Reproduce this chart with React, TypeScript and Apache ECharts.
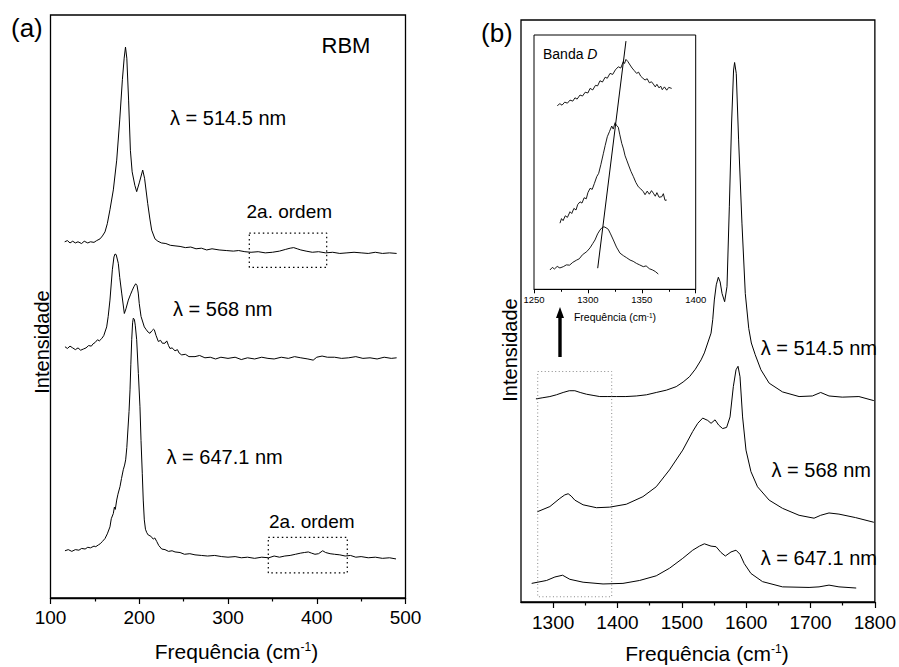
import React, { useEffect, useRef } from "react";
import * as echarts from "echarts";

// ---------- Panel (a): RBM region ----------
const rbmTicks = [100, 200, 300, 400, 500];
const rbm514: number[][] = [
  [116, 61.1], [119, 61.3], [122, 60.9], [125, 61.2], [128, 60.9], [131, 61.1], [135, 60.8], [138, 61.2],
  [142, 60.9], [145, 61.1], [149, 61.0], [152, 61.3], [155.8, 61.6], [158.5, 62.1], [161.4, 62.8], [164, 64.2],
  [167, 66.6], [170.8, 70.0], [174.6, 75.1], [178, 82.0], [181, 88.9], [183, 92.6], [184.5, 94.5], [186, 92.6],
  [188, 85.4], [190, 76.8], [192, 73.1], [195, 70.8], [197.1, 69.7], [200, 71.2], [203.9, 73.4], [206, 72.0],
  [209.5, 67.7], [212, 65.0], [214, 63.1], [217.7, 61.6], [221, 61.2], [225, 60.9], [230, 60.8], [235, 60.5],
  [240.3, 60.4], [246, 60.3], [252, 60.1], [258, 60.2], [264, 59.9], [270, 60.0], [276, 59.7], [282, 59.9],
  [290, 59.7], [298, 59.6], [306, 59.5], [312, 59.6], [319, 59.4], [326, 59.3], [334, 59.4], [342, 59.2],
  [350, 59.3], [358, 59.5], [365, 59.8], [370, 60.0], [374, 60.1], [378, 59.9], [382, 59.7], [388, 59.5],
  [395, 59.3], [402, 59.4], [410, 59.2], [418, 59.3], [426, 59.1], [434, 59.2], [442, 59.3], [450, 59.2],
  [458, 59.1], [466, 59.3], [474, 59.1], [482, 59.2], [490, 59.1],
];
const rbm568: number[][] = [
  [116.3, 43.1], [119, 42.8], [122, 43.2], [125, 42.9], [128, 42.6], [131, 42.9], [134, 42.5], [137, 42.7],
  [140, 42.9], [143, 43.3], [146, 43.2], [148, 43.6], [150.1, 43.8], [153, 44.3], [155, 44.1], [157.7, 44.5],
  [160, 45.0], [163.3, 46.5], [165, 48.3], [167, 51.1], [169.7, 56.3], [171.5, 58.5], [172.7, 59.0], [174, 58.9],
  [176.4, 57.4], [178, 55.0], [180.2, 52.3], [183.2, 48.8], [185, 49.6], [187.7, 51.1], [190, 52.0], [192.2, 52.8],
  [194, 53.4], [196, 53.9], [197.5, 53.6], [198.9, 52.3], [200, 50.5], [202, 48.3], [205.7, 46.5], [208, 46.0],
  [210, 45.6], [212.1, 45.4], [214, 45.8], [216, 46.1], [217, 46.0], [219, 45.0], [221.5, 44.0], [224, 44.2],
  [226, 43.7], [229, 43.7], [231, 44.1], [233, 43.3], [234.6, 42.8], [237, 42.9], [240.3, 42.4], [243, 42.6],
  [245, 42.0], [247.8, 41.7], [252, 41.8], [256, 41.4], [262.8, 41.4], [268, 41.6], [274, 41.2], [280, 41.3],
  [286, 41.0], [292, 41.3], [300, 41.1], [308, 41.3], [315, 40.9], [322, 41.2], [330, 41.0], [338, 41.3],
  [345, 41.1], [352, 41.0], [360, 41.3], [368, 41.1], [375, 41.4], [382, 41.2], [390, 41.0], [396, 40.8],
  [400, 41.3], [406, 41.5], [412, 41.3], [420, 41.3], [428, 41.1], [436, 41.2], [444, 41.4], [452, 41.1],
  [460, 41.2], [468, 41.0], [476, 41.3], [484, 41.1], [490, 41.2],
];
const rbm647: number[][] = [
  [116.3, 8.1], [120, 8.3], [124, 8.0], [128, 8.3], [132, 8.2], [135.1, 8.5], [139, 8.4], [142, 8.7],
  [145, 8.6], [149, 8.9], [151, 8.8], [153.9, 9.1], [156, 9.3], [158.5, 9.7], [161.4, 10.2], [164, 11.0],
  [167, 12.2], [168.5, 13.6], [170.8, 14.5], [172, 15.6], [173, 15.2], [174.6, 16.8], [176, 17.8], [178.3, 19.1],
  [180, 20.5], [182, 22.0], [183.5, 22.8], [184.7, 23.7], [186, 25.8], [187, 28.3], [188.5, 32.0], [189.6, 35.7],
  [190.5, 40.0], [191.5, 44.3], [192.5, 47.2], [193.3, 48.0], [194.5, 47.8], [195.5, 46.8], [197.1, 44.3],
  [199, 38.5], [200.8, 32.8], [202, 27.0], [203.4, 21.4], [204.5, 16.8], [205.7, 13.4], [207, 11.8], [208.5, 11.2],
  [210.2, 10.8], [213, 10.6], [215.8, 10.1], [217.5, 10.3], [219.7, 9.7], [222, 9.0], [225.3, 8.4], [229, 8.3],
  [233, 8.0], [237, 8.1], [240.3, 7.9], [246, 7.8], [251, 7.5], [257, 7.6], [262.8, 7.4], [270, 7.3], [277, 7.2],
  [285, 7.3], [292.9, 7.1], [300, 7.0], [308, 7.1], [315, 6.9], [322, 7.0], [330, 6.8], [338, 7.0], [346, 6.9],
  [352, 7.2], [358, 7.0], [364, 7.2], [370, 7.3], [376, 7.5], [382, 7.7], [386, 7.8], [390.5, 7.9], [394, 7.7],
  [398, 7.5], [402, 7.6], [406.7, 8.1], [410, 7.8], [415, 7.6], [420, 7.5], [426, 7.4], [432, 7.2], [438, 7.3],
  [444, 7.0], [450, 7.1], [458, 6.9], [466, 7.0], [474, 6.8], [482, 6.9], [489.3, 6.7],
];
const rbmBoxTop: number[][] = [[324, 62.6], [411.2, 62.6], [411.2, 56.7], [324, 56.7], [324, 62.6]];
const rbmBoxBottom: number[][] = [[345.4, 10.4], [434.4, 10.4], [434.4, 4.3], [345.4, 4.3], [345.4, 10.4]];

// ---------- Panel (b): D and G bands ----------
const gMajorTicks = [1300, 1400, 1500, 1600, 1700, 1800];
const gMinorTicks = [1350, 1450, 1550, 1650, 1750];
const g514: number[][] = [
  [1273.2, 34.9], [1284, 35.1], [1294.9, 35.3], [1305, 35.6], [1315.5, 36.0], [1325, 36.3], [1333.7, 36.3],
  [1342, 36.0], [1351.8, 35.7], [1362, 35.5], [1372.4, 35.3], [1385, 35.3], [1398.3, 35.3], [1413, 35.3],
  [1429.2, 35.4], [1445, 35.6], [1460.2, 36.0], [1476, 36.4], [1491.2, 37.0], [1502, 37.8], [1511.8, 38.7],
  [1521, 40.0], [1529.9, 41.6], [1535, 42.8], [1540.2, 44.5], [1545.4, 46.2], [1548, 48.5], [1550.5, 51.9],
  [1553.5, 54.5], [1556.7, 55.8], [1559.5, 55.0], [1562.5, 53.0], [1566.5, 51.6], [1570.2, 54.2], [1573.8, 67.9],
  [1577.3, 82.3], [1580.4, 91.4], [1582, 92.7], [1584.6, 90.8], [1588.2, 79.4], [1593.4, 65.1], [1598.6, 53.0],
  [1604, 47.0], [1608, 44.5], [1614, 42.5], [1622.9, 39.9], [1635.7, 37.6], [1656.4, 36.1], [1682.2, 35.3],
  [1702.8, 35.4], [1715.8, 36.0], [1728.7, 35.4], [1749.3, 35.2], [1775.2, 35.3], [1798.4, 34.6],
];
const g568: number[][] = [
  [1275.3, 15.5], [1294.9, 16.4], [1310.4, 17.8], [1318, 18.4], [1323.3, 18.6], [1328, 18.2], [1333.7, 17.5],
  [1346.5, 16.7], [1367.3, 16.2], [1387.9, 16.3], [1413.7, 16.8], [1439.5, 18.1], [1460.2, 19.8], [1480.8, 22.7],
  [1501.4, 26.1], [1516.9, 29.3], [1524.7, 30.7], [1532.4, 31.6], [1540.2, 31.2], [1545.4, 30.7], [1551.6, 31.3],
  [1557.2, 30.4], [1563.4, 29.8], [1569.6, 30.0], [1574.9, 31.8], [1580, 37.0], [1584.2, 39.9], [1587.3, 40.5],
  [1590.4, 38.7], [1594.4, 31.8], [1599.7, 26.1], [1607.4, 22.4], [1617.6, 19.8], [1635.7, 17.5], [1656.4, 16.1],
  [1682.2, 14.9], [1705.5, 14.4], [1715.8, 14.9], [1728.7, 15.3], [1744.2, 15.1], [1770.1, 14.5], [1798.4, 13.7],
];
const g647: number[][] = [
  [1266.6, 3.2], [1289.8, 3.7], [1302.7, 4.3], [1314.6, 4.6], [1325.9, 3.9], [1346.5, 3.4], [1377.5, 3.1],
  [1408.5, 3.2], [1434.4, 3.7], [1460.2, 4.5], [1480.8, 5.8], [1501.4, 7.5], [1516.9, 8.9], [1527.3, 9.6],
  [1535, 10.0], [1545.4, 9.6], [1553.2, 9.5], [1560.9, 8.5], [1567.6, 7.9], [1576.4, 8.6], [1584.2, 8.9],
  [1590.4, 8.2], [1597, 6.6], [1607.4, 4.9], [1625.4, 3.5], [1656.4, 2.6], [1697.7, 2.5], [1713.2, 2.6],
  [1728.7, 2.9], [1744.2, 2.6], [1771, 2.4],
];
const gBox: number[][] = [[1276, 39.6], [1391, 39.6], [1391, 0.9], [1276, 0.9], [1276, 39.6]];

// ---------- Inset: D band ----------
const insetTop: number[][] = [
  [1271.6, 72.2], [1274, 73.0], [1276, 72.4], [1278.5, 73.6], [1281, 73.2], [1283.4, 74.4], [1286, 74.0],
  [1288, 75.3], [1290, 74.8], [1292.7, 76.4], [1295, 76.0], [1297.5, 77.5], [1300, 77.2], [1302, 79.0],
  [1304.5, 78.4], [1307, 80.2], [1309, 80.0], [1311.2, 82.0], [1313.5, 81.5], [1316, 83.4], [1318, 83.0],
  [1320.5, 84.9], [1323, 84.5], [1325.5, 86.3], [1328.2, 87.5], [1330.5, 87.0], [1332.8, 89.5], [1334, 88.8],
  [1335.3, 90.4], [1337, 89.6], [1339.1, 88.2], [1341, 87.0], [1343, 86.0], [1345.2, 84.9], [1347, 85.4],
  [1349, 83.8], [1351, 83.0], [1353, 82.3], [1355, 82.8], [1357, 81.2], [1359, 81.6], [1360.7, 80.7],
  [1362.5, 79.6], [1364, 80.6], [1366, 79.2], [1367.5, 79.9], [1369, 78.5], [1371, 79.6], [1373.1, 78.3],
  [1375, 79.4], [1377.7, 79.0],
];
const insetMid: number[][] = [
  [1274.1, 26.0], [1275.5, 27.8], [1277, 27.0], [1279, 28.9], [1281, 28.3], [1283.4, 30.5], [1285, 29.8],
  [1287, 31.8], [1289, 31.2], [1290.5, 33.3], [1292.7, 34.4], [1294.5, 33.9], [1296.5, 36.0], [1298.5, 35.6],
  [1300, 38.0], [1302, 39.7], [1304, 39.3], [1306, 41.6], [1308.2, 44.3], [1310, 45.6], [1312, 49.0],
  [1314.4, 53.5], [1316, 56.5], [1318, 60.0], [1320, 62.0], [1322.1, 64.2], [1323.5, 63.0], [1325.2, 65.5],
  [1326.5, 64.5], [1328.2, 63.7], [1329.5, 61.0], [1331.4, 57.4], [1333, 55.2], [1334.5, 52.5], [1336, 50.8],
  [1338, 48.5], [1340, 46.3], [1342.2, 44.3], [1344.5, 42.0], [1346.8, 40.3], [1349, 39.5], [1351.4, 38.4],
  [1353, 37.2], [1355, 38.6], [1357, 37.4], [1359, 38.8], [1360.7, 37.8], [1362.5, 36.6], [1364, 38.0],
  [1366, 36.2], [1368.5, 36.4], [1370, 37.6], [1371.5, 35.0], [1373.1, 35.1],
];
const insetBot: number[][] = [
  [1264.8, 7.6], [1267, 8.6], [1269, 8.0], [1271.5, 9.0], [1274, 8.4], [1277.2, 8.9], [1280, 9.6], [1283, 9.5],
  [1286, 10.6], [1289.6, 11.5], [1292, 12.0], [1295, 13.6], [1298.9, 14.8], [1302, 16.3], [1304.5, 18.0],
  [1306.6, 19.4], [1309, 21.8], [1311.2, 23.3], [1313, 24.2], [1314.9, 24.6], [1316.8, 24.2], [1318.9, 23.6],
  [1321, 21.8], [1323.6, 19.4], [1326.5, 16.6], [1329.8, 14.2], [1333, 13.2], [1336, 12.4], [1339.1, 11.5],
  [1342, 11.0], [1345, 10.2], [1348, 9.6], [1351.4, 8.9], [1354, 9.2], [1357, 8.1], [1360, 7.6], [1362.5, 7.0],
  [1365.3, 6.0],
];
const insetShift: number[][] = [[1309.1, 8.3], [1335.3, 97.6]];

const FONT = "'Liberation Sans', Arial, Helvetica, sans-serif";
const plain = (v: number) => String(v);

function lineSeries(data: number[][], xi: number, yi: number, width = 1, type: any = "solid", color = "#000") {
  return {
    type: "line",
    xAxisIndex: xi,
    yAxisIndex: yi,
    data,
    showSymbol: false,
    symbol: "none",
    silent: true,
    lineStyle: { color, width, type },
    z: 3,
  };
}

function txt(text: string, x: number, y: number, size: number, align = "left", extra: any = {}) {
  return {
    type: "text",
    x,
    y,
    silent: true,
    z: 10,
    ...extra,
    style: {
      text,
      fontSize: size,
      fontFamily: FONT,
      fill: "#000",
      textAlign: align,
      textVerticalAlign: "middle",
      ...(extra.style || {}),
    },
  };
}

export default function App() {
  const ref = useRef<HTMLDivElement>(null);
  useEffect(() => {
    if (!ref.current) return;
    const chart = echarts.init(ref.current, undefined, { renderer: "svg" });
    const axisLine = { show: true, lineStyle: { color: "#000", width: 1.3 } };
    const option: any = {
      animation: false,
      backgroundColor: "#fff",
      grid: [
        { left: 50.5, top: 15, width: 355, height: 583, show: true, borderColor: "#000", borderWidth: 1.3, backgroundColor: "transparent" },
        { left: 521, top: 20, width: 355, height: 582, show: true, borderColor: "#000", borderWidth: 1.3, backgroundColor: "transparent" },
        { left: 534, top: 35, width: 161.7, height: 254.3, show: true, borderColor: "#000", borderWidth: 1, backgroundColor: "#fff" },
      ],
      xAxis: [
        {
          gridIndex: 0, type: "value", min: 100, max: 500, interval: 100,
          axisLine, splitLine: { show: false },
          axisTick: { show: true, inside: false, length: 6, lineStyle: { color: "#000", width: 1.2 }, customValues: rbmTicks },
          minorTick: { show: true, splitNumber: 2, length: 3.5, lineStyle: { color: "#000", width: 1.2 } },
          axisLabel: { fontSize: 19, color: "#000", margin: 10, fontFamily: FONT, customValues: rbmTicks, formatter: plain },
        },
        {
          gridIndex: 1, type: "value", min: 1250, max: 1800, interval: 50,
          axisLine, splitLine: { show: false },
          axisTick: { show: true, inside: false, length: 6, lineStyle: { color: "#000", width: 1.2 }, customValues: gMajorTicks },
          axisLabel: { fontSize: 19, color: "#000", margin: 11, fontFamily: FONT, customValues: gMajorTicks, formatter: plain },
        },
        {
          gridIndex: 1, type: "value", min: 1250, max: 1800, interval: 50, position: "bottom",
          axisLine: { show: false }, splitLine: { show: false },
          axisTick: { show: true, inside: false, length: 3.5, lineStyle: { color: "#000", width: 1.2 }, customValues: gMinorTicks },
          axisLabel: { show: false },
        },
        {
          gridIndex: 2, type: "value", min: 1250, max: 1400, interval: 50,
          axisLine: { show: true, lineStyle: { color: "#000", width: 1 } }, splitLine: { show: false },
          axisTick: { show: true, inside: false, length: 4, lineStyle: { color: "#000", width: 1 } },
          minorTick: { show: true, splitNumber: 2, length: 2.5, lineStyle: { color: "#000", width: 1 } },
          axisLabel: { fontSize: 9.5, color: "#000", margin: 5, fontFamily: FONT, formatter: plain },
        },
      ],
      yAxis: [
        { gridIndex: 0, type: "value", min: 0, max: 100, show: false },
        { gridIndex: 1, type: "value", min: 0, max: 100, show: false },
        { gridIndex: 2, type: "value", min: 0, max: 100, show: false },
      ],
      series: [
        lineSeries(rbm514, 0, 0, 1),
        lineSeries(rbm568, 0, 0, 1),
        lineSeries(rbm647, 0, 0, 1),
        lineSeries(rbmBoxTop, 0, 0, 1.2, [1.5, 3]),
        lineSeries(rbmBoxBottom, 0, 0, 1.2, [1.5, 3]),
        lineSeries(g514, 1, 1, 1),
        lineSeries(g568, 1, 1, 1),
        lineSeries(g647, 1, 1, 1),
        lineSeries(gBox, 1, 1, 1, [1, 2.5], "#888"),
        lineSeries(insetTop, 3, 2, 0.9),
        lineSeries(insetMid, 3, 2, 0.9),
        lineSeries(insetBot, 3, 2, 0.9),
        lineSeries(insetShift, 3, 2, 1),
      ],
      graphic: [
        txt("(a)", 11, 28, 26),
        txt("RBM", 346, 45, 22, "center"),
        txt("λ = 514.5 nm", 170, 118, 20),
        txt("2a. ordem", 246.5, 211, 19),
        txt("λ = 568 nm", 173, 308.5, 20),
        txt("λ = 647.1 nm", 166.5, 457, 20),
        txt("2a. ordem", 269, 521, 19),
        txt("Intensidade", 42, 342, 20, "center", { rotation: Math.PI / 2 }),
        txt("Frequência (cm{sup|-1})", 236.5, 651, 21, "center", {
          style: { rich: { sup: { fontSize: 12, fontFamily: FONT, verticalAlign: "top", fill: "#000" } } },
        }),
        txt("(b)", 481, 33, 26),
        txt("Intensidade", 510, 350, 20, "center", { rotation: Math.PI / 2 }),
        txt("Frequência (cm{sup|-1})", 707, 653.5, 21, "center", {
          style: { rich: { sup: { fontSize: 12, fontFamily: FONT, verticalAlign: "top", fill: "#000" } } },
        }),
        txt("λ = 514.5 nm", 877, 347.5, 20, "right"),
        txt("λ = 568 nm", 771.5, 469.5, 20),
        txt("λ = 647.1 nm", 877, 558, 20, "right"),
        txt("Banda {i|D}", 543, 53.5, 14, "left", {
          style: { rich: { i: { fontSize: 14, fontFamily: FONT, fontStyle: "italic", fill: "#000" } } },
        }),
        txt("Frequência (cm{sup|-1})", 615, 317, 10.5, "center", {
          style: { rich: { sup: { fontSize: 6.5, fontFamily: FONT, verticalAlign: "top", fill: "#000" } } },
        }),
        {
          type: "group",
          silent: true,
          z: 10,
          children: [
            { type: "rect", shape: { x: 558.3, y: 315, width: 3.4, height: 42 }, style: { fill: "#000" } },
            { type: "polygon", shape: { points: [[556, 318], [560, 307], [564, 318]] }, style: { fill: "#000" } },
          ],
        },
      ],
    };
    chart.setOption(option);
    return () => chart.dispose();
  }, []);
  return (
    <div
      ref={ref}
      style={{ position: "fixed", left: 0, top: 0, width: 899, height: 667, background: "#fff" }}
    />
  );
}
